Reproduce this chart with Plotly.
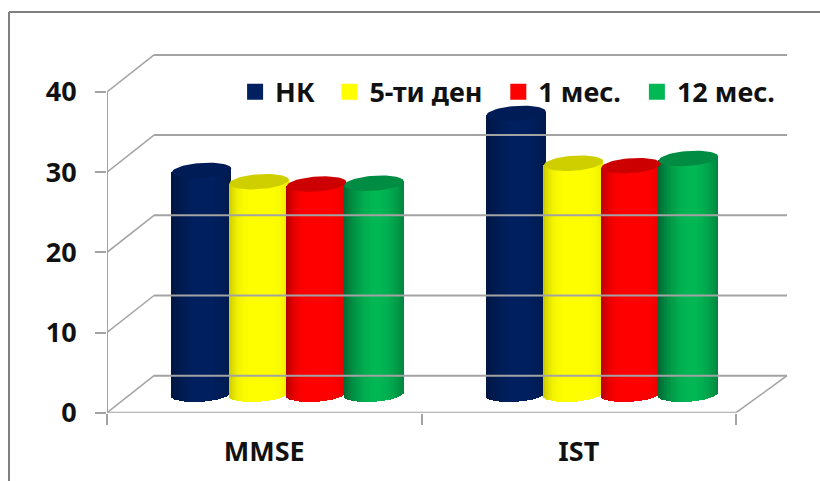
import numpy as np
import plotly.graph_objects as go

categories = ["MMSE", "IST"]
series_names = ["НК", "5-ти ден", "1 мес.", "12 мес."]
values_nk = [27.9, 35.0]
values_5d = [26.5, 28.8]
values_1m = [26.2, 28.5]
values_12m = [26.3, 29.4]
y_ticks = [0, 10, 20, 30, 40]
edge_colors = [(0, 22, 66), (200, 200, 0), (178, 0, 0), (0, 105, 52)]
mid_colors = [(0, 32, 96), (255, 255, 0), (255, 0, 0), (0, 184, 84)]
shade_power = [2.0, 4.0, 4.0, 1.9]
top_colors = ["#001c56", "#cfcf00", "#cc0000", "#008c42"]
legend_x = [0.2867, 0.4017, 0.6077, 0.7767]

W, H = 820, 481
PX_X0, PX_Y0, PX_X, PX_Y = 107.0, 412.7, 314.5, 8.02
DX, DY = 47 / PX_X, 37 / PX_Y
BACK_RIGHT = 2 + 51 / PX_X
SPACING, BAR_W = 57.5 / PX_X, 59.5 / PX_X
ELL_H = 7.5 / PX_Y
TILT = 2.0 / PX_Y
N = 40
GRID = "#a3a3a3"
FONT = dict(family="Noto Sans", size=27, color="#111111", weight="bold")

fig = go.Figure()

for v in y_ticks:
    fig.add_trace(go.Scatter(x=[0, DX], y=[v, v + DY], mode="lines",
                             line=dict(color=GRID, width=1.5), showlegend=False, hoverinfo="skip"))
    fig.add_trace(go.Scatter(x=[DX, BACK_RIGHT], y=[v + DY, v + DY], mode="lines",
                             line=dict(color=GRID, width=2), showlegend=False, hoverinfo="skip"))
fig.add_trace(go.Scatter(x=[0, 2], y=[0, 0], mode="lines",
                         line=dict(color=GRID, width=2), showlegend=False, hoverinfo="skip"))
fig.add_trace(go.Scatter(x=[2, BACK_RIGHT], y=[0, DY], mode="lines",
                         line=dict(color=GRID, width=1.5), showlegend=False, hoverinfo="skip"))
fig.add_trace(go.Scatter(x=[0, 0], y=[0, 40], mode="lines",
                         line=dict(color=GRID, width=2), showlegend=False, hoverinfo="skip"))

all_values = [values_nk, values_5d, values_1m, values_12m]
ts = (np.arange(N) + 0.5) / N * 2 - 1
for s, vals in enumerate(all_values):
    xs, tops, bases, cols = [], [], [], []
    e, m = np.array(edge_colors[s]), np.array(mid_colors[s])
    for c, val in enumerate(vals):
        cx = c + 0.5 + DX / 2 + (s - 1.5) * SPACING
        for t in ts:
            curve = np.sqrt(1 - t * t)
            b = DY / 2 - ELL_H * curve + TILT * t
            f = max(0.0, 1 - abs((t - 0.12) / 1.12) ** shade_power[s])
            col = e + (m - e) * f
            xs.append(cx + t * BAR_W / 2)
            bases.append(b)
            tops.append(DY / 2 + val + TILT * t - b)
            cols.append("rgb(%d,%d,%d)" % tuple(col))
    fig.add_trace(go.Bar(x=xs, y=tops, base=bases, width=BAR_W / N * 1.25,
                         marker=dict(color=cols, line=dict(width=0)),
                         showlegend=False, hoverinfo="skip"))
    for c, val in enumerate(vals):
        cx = c + 0.5 + DX / 2 + (s - 1.5) * SPACING
        a = np.linspace(0, 2 * np.pi, 61)
        fig.add_trace(go.Scatter(
            x=cx + np.cos(a) * BAR_W / 2,
            y=DY / 2 + val + np.sin(a) * ELL_H + TILT * np.cos(a),
            mode="lines", fill="toself", fillcolor=top_colors[s],
            line=dict(width=0, color=top_colors[s]), showlegend=False, hoverinfo="skip"))

for s, name in enumerate(series_names):
    lname = "legend" if s == 0 else f"legend{s + 1}"
    fig.add_trace(go.Scatter(x=[None], y=[None], mode="markers", name=name, legend=lname,
                             marker=dict(symbol="square", size=17,
                                         color="rgb(%d,%d,%d)" % mid_colors[s])))

legend_common = dict(font=FONT, y=0.8085, yanchor="middle", xanchor="left", bgcolor="rgba(0,0,0,0)",
                     itemwidth=30, borderwidth=0, traceorder="normal")
legends = {("legend" if s == 0 else f"legend{s + 1}"): dict(legend_common, x=legend_x[s]) for s in range(4)}

frame = dict(type="line", xref="paper", yref="paper", line=dict(color="#808080", width=2))
fig.update_layout(
    width=W, height=H, margin=dict(l=0, r=0, t=0, b=0, pad=0), autosize=False,
    paper_bgcolor="white", plot_bgcolor="white", barmode="overlay", bargap=0,
    font=FONT, hovermode=False,
    xaxis=dict(domain=[PX_X0 / W, 795 / W], range=[0, (795 - PX_X0) / PX_X], tickmode="array",
               tickvals=[0.5, 1.5], ticktext=categories, ticks="", showgrid=False, zeroline=False,
               showline=False, ticklabelstandoff=20, tickfont=FONT, automargin=False,
               minor=dict(tickmode="array", tickvals=[0, 1, 2], ticks="outside", ticklen=11,
                          tickcolor=GRID, tickwidth=2, showgrid=False)),
    yaxis=dict(domain=[(H - PX_Y0) / H, (H - 40) / H], range=[0, (PX_Y0 - 40) / PX_Y], tickmode="array",
               tickvals=y_ticks, ticks="outside", ticklen=11, tickcolor=GRID, tickwidth=2, automargin=False,
               showgrid=False, zeroline=False, showline=False, ticklabelstandoff=13, tickfont=FONT),
    shapes=[dict(frame, x0=9 / W, x1=1, y0=1 - 12 / H, y1=1 - 12 / H),
            dict(frame, x0=9 / W, x1=9 / W, y0=0, y1=1 - 12 / H)],
    **legends,
)
fig.write_html("out.html", config={"displayModeBar": False},
               post_script="document.body.style.margin='0';")
